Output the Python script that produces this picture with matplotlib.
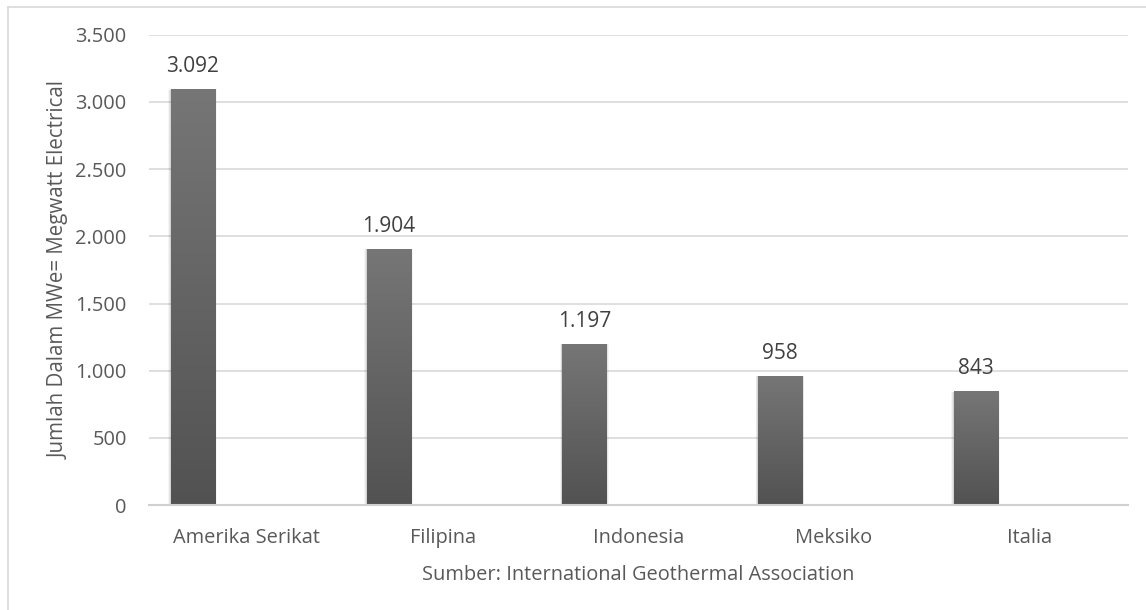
import numpy as np
import matplotlib
matplotlib.use('Agg')
import matplotlib.pyplot as plt
from matplotlib.colors import LinearSegmentedColormap
from matplotlib.patches import Rectangle
from matplotlib.lines import Line2D

# --- Data ---
countries = ['Amerika Serikat', 'Filipina', 'Indonesia', 'Meksiko', 'Italia']
capacity_mwe = [3092, 1904, 1197, 958, 843]
y_ticks = [0, 500, 1000, 1500, 2000, 2500, 3000, 3500]


def fmt_id(v):
    return f'{v:,.0f}'.replace(',', '.')


plt.rcParams['font.family'] = ['Open Sans', 'DejaVu Sans']

fig = plt.figure(figsize=(11.46, 6.10), dpi=100)
ax = fig.add_axes([0.130, 0.172, 0.854, 0.771])

# outer chart border (left / top only visible)
fig.add_artist(Line2D([8 / 1146, 8 / 1146], [0, 1 - 7 / 610], transform=fig.transFigure,
                      color='#d9d9d9', lw=1.2))
fig.add_artist(Line2D([8 / 1146, 1], [1 - 7 / 610, 1 - 7 / 610], transform=fig.transFigure,
                      color='#d9d9d9', lw=1.2))

x = np.arange(len(countries))
offset, width = -0.276, 0.225
bars = ax.bar(x + offset, capacity_mwe, width=width, color='none', zorder=3)

grad = LinearSegmentedColormap.from_list('g', ['#525252', '#767676'])
gimg = np.linspace(0, 1, 256).reshape(-1, 1)
for rect, val in zip(bars, capacity_mwe):
    x0, w, h = rect.get_x(), rect.get_width(), rect.get_height()
    # soft shadow
    for k, a in zip([0.012, 0.008, 0.004], [0.04, 0.06, 0.08]):
        ax.add_patch(Rectangle((x0 - k, 0), w + 2 * k, h + k * 60, color='black',
                               alpha=a, lw=0, zorder=2))
    ax.imshow(gimg, cmap=grad, origin='lower', aspect='auto',
              extent=(x0, x0 + w, 0, h), zorder=4)
    ax.annotate(fmt_id(val), (x0 + w / 2, h), xytext=(0, 9), textcoords='offset points',
                ha='center', va='bottom', fontsize=15, color='#404040')

ax.set_xlim(-0.5, len(countries) - 0.5)
ax.set_ylim(0, 3500)
ax.set_yticks(y_ticks)
ax.set_yticklabels([fmt_id(v) for v in y_ticks])
ax.set_xticks(x)
ax.set_xticklabels(countries)
ax.tick_params(axis='both', length=0, labelsize=14.4, labelcolor='#595959')
ax.tick_params(axis='x', pad=16.5)
ax.tick_params(axis='y', pad=16)

ax.grid(axis='y', color='#d9d9d9', lw=1.2, zorder=0)
ax.set_axisbelow(True)
for s in ['top', 'right', 'left']:
    ax.spines[s].set_visible(False)
ax.spines['bottom'].set_color('#d0d0d0')
ax.spines['bottom'].set_linewidth(1.5)
ax.spines['bottom'].set_zorder(5)

ax.set_xlabel('Sumber: International Geothermal Association', fontsize=14.4,
              color='#595959', labelpad=12)
ax.set_ylabel('Jumlah Dalam MWe= Megwatt Electrical', fontsize=14.8,
              color='#595959', labelpad=4)

fig.savefig('out.png', dpi=100, facecolor='white')
